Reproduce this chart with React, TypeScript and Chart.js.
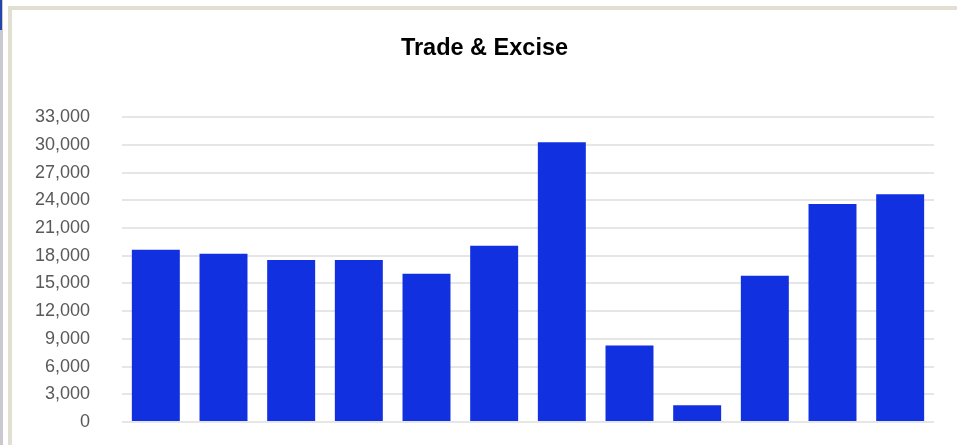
import React, { useEffect, useRef } from "react";
import { Chart, registerables } from "chart.js";

Chart.register(...registerables);

const TITLE = "Trade & Excise";
const categories = ["Apr", "May", "Jun", "Jul", "Aug", "Sep", "Oct", "Nov", "Dec", "Jan", "Feb", "Mar"];
const values = [18640, 18210, 17550, 17550, 16050, 19070, 30300, 8280, 1800, 15840, 23590, 24670];
const yMax = 33000;
const yStep = 3000;

export default function App() {
  const ref = useRef<HTMLCanvasElement | null>(null);

  useEffect(() => {
    if (!ref.current) return;
    const chart = new Chart(ref.current, {
      type: "bar",
      data: {
        labels: categories,
        datasets: [
          {
            label: TITLE,
            data: values,
            backgroundColor: "#1131e1",
            borderWidth: 0,
            barPercentage: 0.709,
            categoryPercentage: 1,
          },
        ],
      },
      options: {
        animation: false,
        responsive: false,
        maintainAspectRatio: false,
        layout: { padding: { left: 23, right: 23, top: 0, bottom: 23 } },
        plugins: {
          legend: { display: false },
          tooltip: { enabled: false },
          title: {
            display: true,
            text: TITLE,
            color: "#000000",
            font: { family: "'Liberation Sans', Arial, sans-serif", size: 23.5, weight: "bold" },
            padding: { top: 23, bottom: 55 },
          },
        },
        scales: {
          x: {
            display: false,
            grid: { display: false },
          },
          y: {
            min: 0,
            max: yMax,
            afterFit: (scale: any) => {
              scale.width = 87;
            },
            ticks: {
              stepSize: yStep,
              padding: 0,
              color: "#595959",
              font: { family: "'Liberation Sans', Arial, sans-serif", size: 18 },
              callback: (v: any) => Number(v).toLocaleString("en-US"),
            },
            grid: {
              color: "#e6e6e6",
              lineWidth: 2,
              drawTicks: true,
              tickLength: 32,
              tickColor: "rgba(0,0,0,0)",
            },
            border: { display: false },
          },
        },
      },
    });
    return () => chart.destroy();
  }, []);

  return (
    <div style={{ position: "fixed", left: 0, top: 0, width: 957, height: 445, background: "#ffffff", overflow: "hidden" }}>
      <div style={{ position: "absolute", left: 0, top: 0, width: 3, height: 445, background: "#c9c9cf" }} />
      <div style={{ position: "absolute", left: 0, top: 0, width: 2, height: 30, background: "#2446a8" }} />
      <div style={{ position: "absolute", left: 8, top: 6, width: 949, height: 4, background: "#e0dfd1" }} />
      <div style={{ position: "absolute", left: 8, top: 6, width: 4, height: 439, background: "#e0dfd1" }} />
      <canvas ref={ref} width={945} height={434} style={{ position: "absolute", left: 12, top: 11, width: 945, height: 434 }} />
    </div>
  );
}
